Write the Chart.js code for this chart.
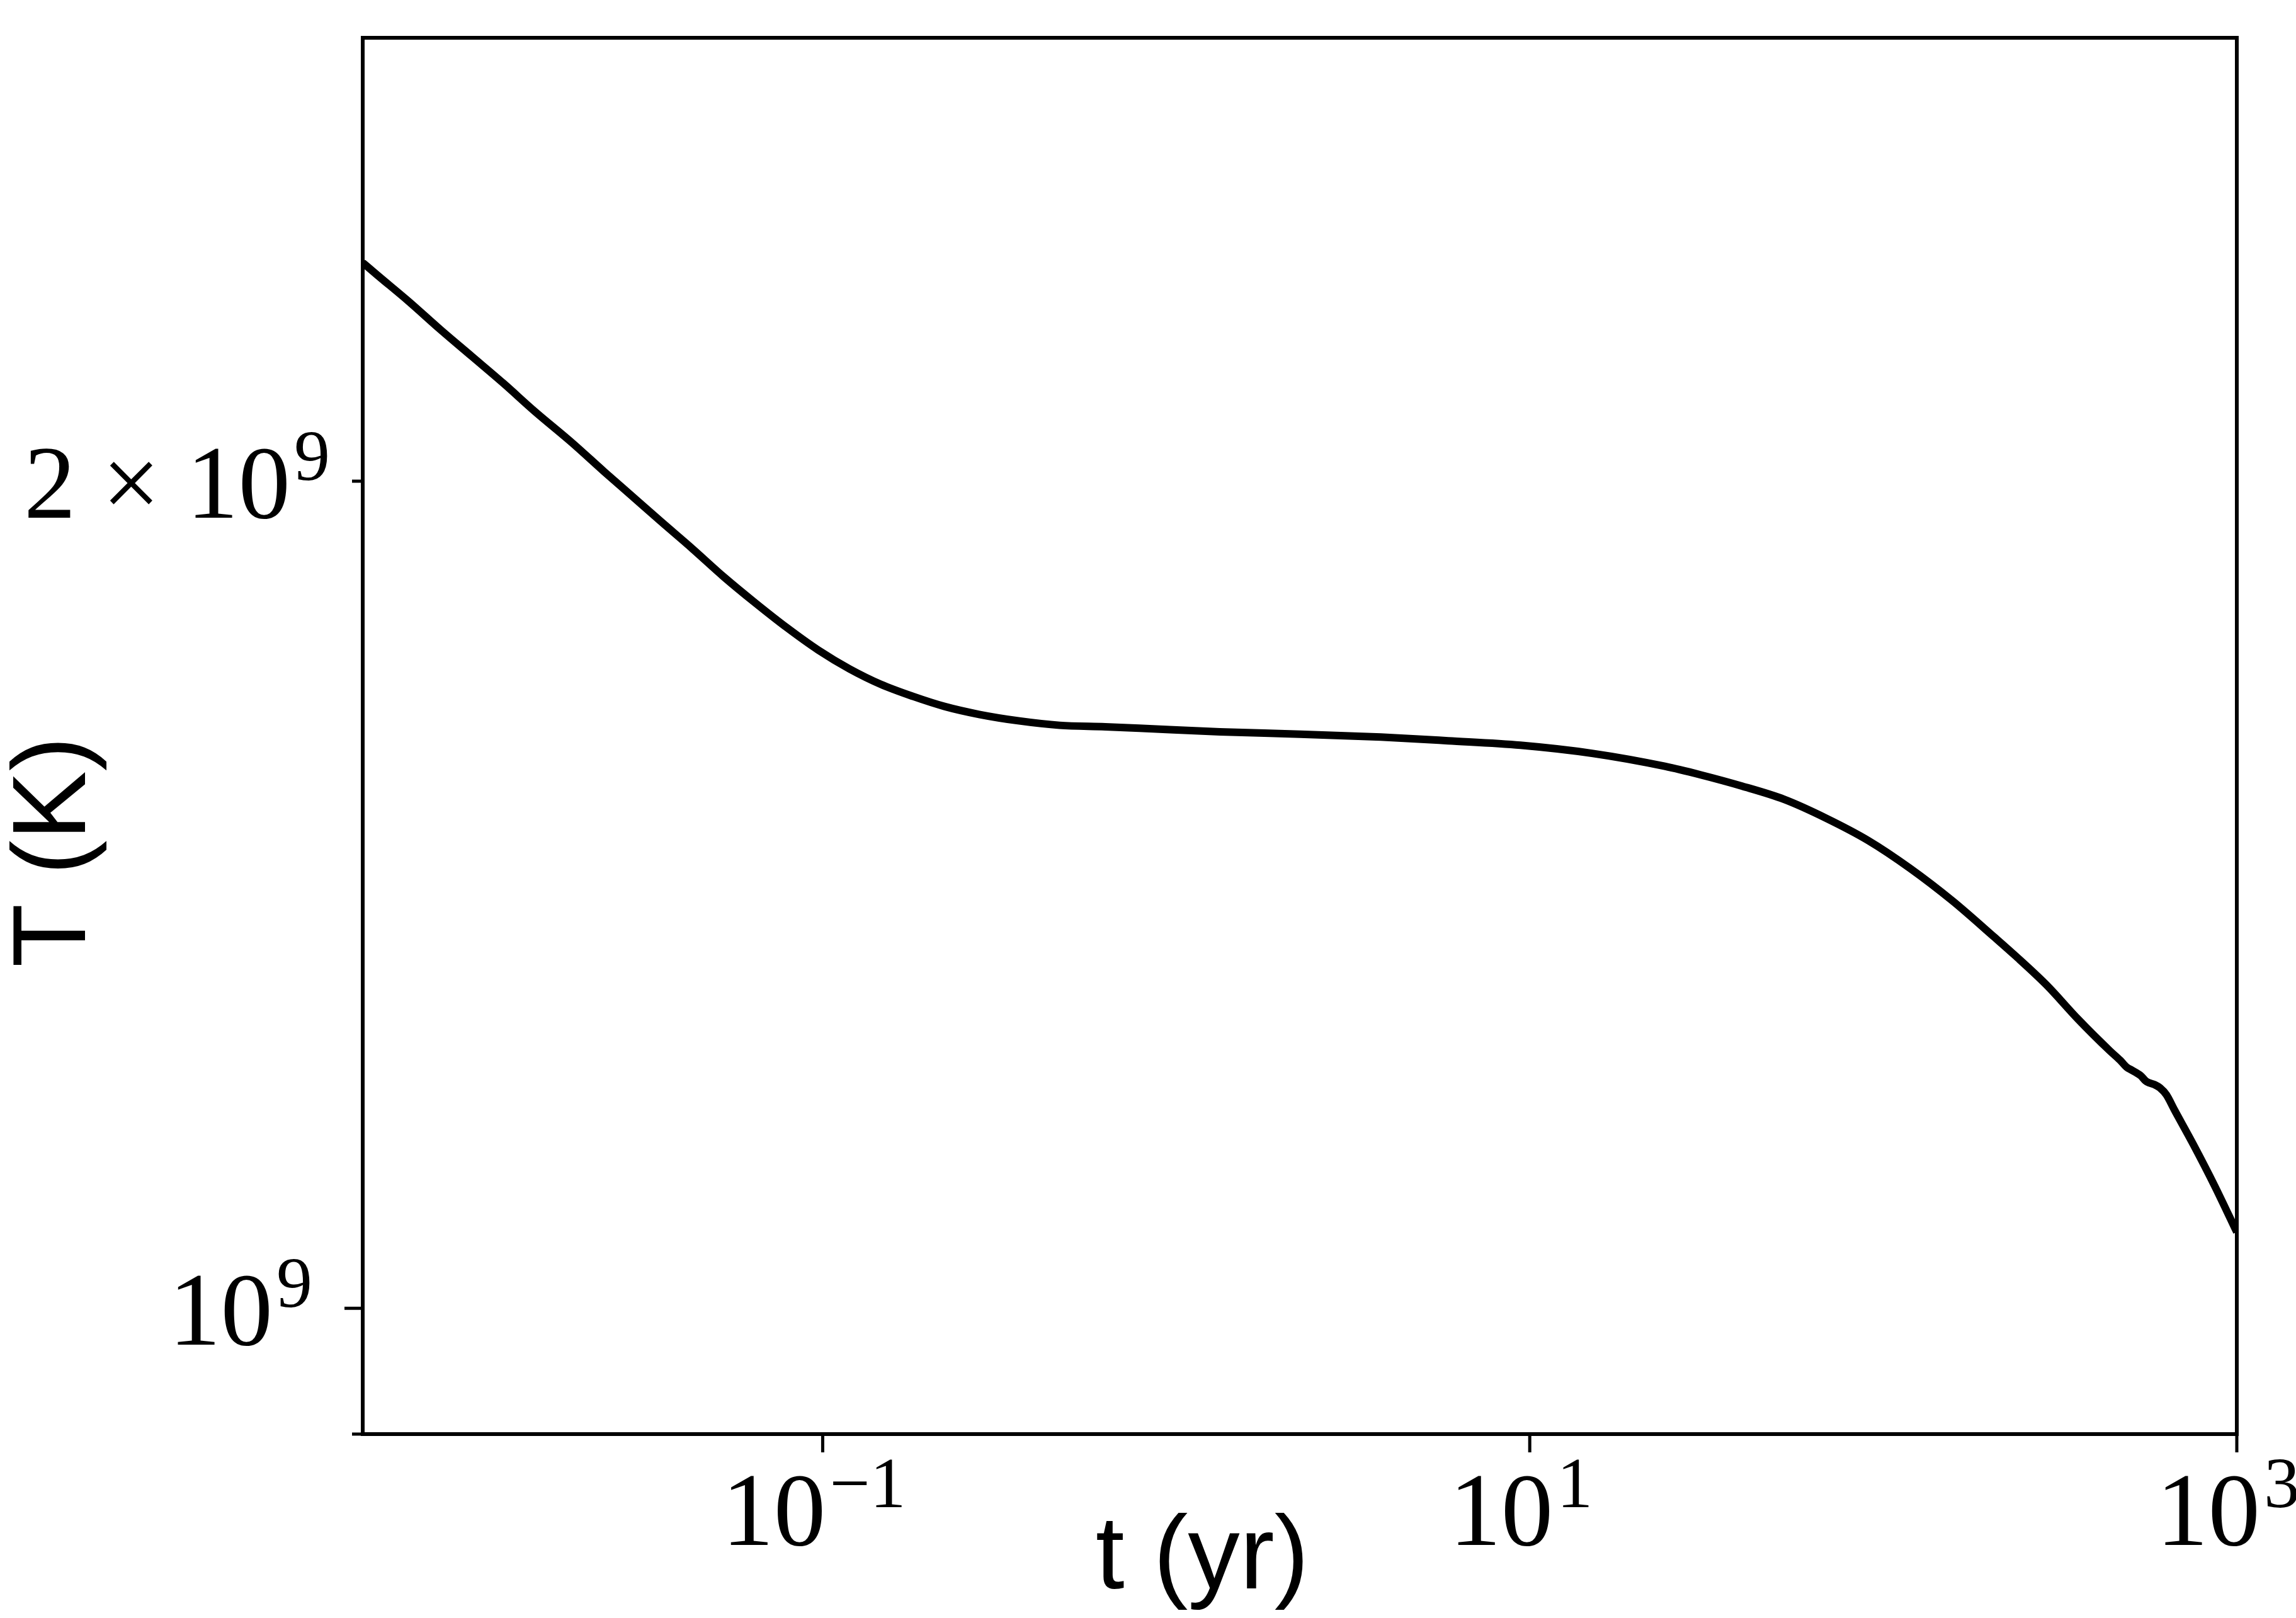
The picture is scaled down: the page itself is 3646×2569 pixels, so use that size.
<!DOCTYPE html>
<html>
<head>
<meta charset="utf-8">
<title>T vs t</title>
<script src="https://cdn.jsdelivr.net/npm/chart.js@4.4.1/dist/chart.umd.min.js"></script>
<style>
  html, body { margin: 0; padding: 0; background: #fff; }
  #wrap { width: 3646px; height: 2569px; position: relative; }
</style>
</head>
<body>
<div id="wrap"><canvas id="tchart"></canvas></div>
<script>
// time (yr) and temperature (K)
var tYears = [0.005, 0.0055, 0.00675, 0.00829, 0.0102, 0.0125, 0.0153, 0.0195, 0.0241, 0.0284,
              0.0348, 0.0428, 0.0525, 0.0645, 0.0792, 0.0972, 0.119, 0.146, 0.18, 0.221,
              0.277, 0.36, 0.468, 0.63, 0.787, 1.33, 2.24, 3.79, 5.88, 9.42, 15.1,
              24.1, 30.3, 39.9, 52.4, 68.9, 90.7, 119, 157, 206, 236,
              290, 356, 437, 468, 488, 504, 521, 536, 552, 565,
              587, 606, 632, 666, 754, 866, 1000];
var tempK = [2.402e9, 2.377e9, 2.325e9, 2.271e9, 2.220e9, 2.171e9, 2.121e9, 2.066e9, 2.016e9, 1.979e9,
             1.934e9, 1.890e9, 1.846e9, 1.806e9, 1.769e9, 1.736e9, 1.709e9, 1.687e9, 1.670e9, 1.656e9,
             1.645e9, 1.636e9, 1.630e9, 1.628e9, 1.626e9, 1.621e9, 1.618e9, 1.614e9, 1.609e9, 1.603e9, 1.592e9,
             1.575e9, 1.564e9, 1.549e9, 1.532e9, 1.508e9, 1.480e9, 1.446e9, 1.407e9, 1.365e9, 1.344e9,
             1.311e9, 1.274e9, 1.241e9, 1.231e9, 1.224e9, 1.221e9, 1.218e9, 1.215e9, 1.210e9, 1.208e9,
             1.206e9, 1.203e9, 1.196e9, 1.181e9, 1.147e9, 1.108e9, 1.066e9];

// ticks: [mantissa text, exponent text]
var xTicks = [0.1, 10, 1000];
var xTickLabels = [['10', '\u22121'], ['10', '1'], ['10', '3']];
var yTicks = [9e8, 1e9, 2e9];
var yTickLabels = [['', ''], ['10', '9'], ['2 \u00d7 10', '9']];
var yTickMajor = [false, true, false];

var points = [];
for (var i = 0; i < tYears.length; i++) {
    points.push({x: tYears[i], y: tempK[i]});
}

var serif = '"Liberation Serif", "DejaVu Serif", serif';
var sans = '"Liberation Sans", Arial, sans-serif';

function drawPow(ctx, base, exp, x, y, align) {
    ctx.font = '165px ' + serif;
    var wb = ctx.measureText(base).width;
    ctx.font = '114px ' + serif;
    var we = ctx.measureText(exp).width;
    var total = wb + 6 + we;
    var left = align == 'center' ? x - total / 2 : x - total;
    ctx.textAlign = 'left';
    ctx.textBaseline = 'alphabetic';
    ctx.font = '165px ' + serif;
    ctx.fillText(base, left, y);
    ctx.font = '114px ' + serif;
    ctx.fillText(exp, left + wb + 6, y - 60);
}

var frame = {
    id: 'frame',
    afterDraw: function(chart) {
        var ctx = chart.ctx;
        var a = chart.chartArea;
        var xs = chart.scales.x, ys = chart.scales.y;
        ctx.save();
        ctx.strokeStyle = '#000';
        ctx.fillStyle = '#000';
        ctx.lineWidth = 6;
        ctx.strokeRect(a.left, a.top, a.right - a.left, a.bottom - a.top);

        ctx.lineWidth = 5;
        ctx.beginPath();
        xTicks.forEach(function(v) {
            var px = xs.getPixelForValue(v);
            ctx.moveTo(px, a.bottom);
            ctx.lineTo(px, a.bottom + 29);
        });
        yTicks.forEach(function(v, i) {
            var py = ys.getPixelForValue(v);
            var len = yTickMajor[i] ? 29 : 17;
            ctx.moveTo(a.left, py);
            ctx.lineTo(a.left - len, py);
        });
        ctx.stroke();

        xTicks.forEach(function(v, i) {
            var px = xs.getPixelForValue(v);
            drawPow(ctx, xTickLabels[i][0], xTickLabels[i][1], px - 14, a.bottom + 176, 'center');
        });
        yTicks.forEach(function(v, i) {
            if (!yTickLabels[i][0]) return;
            var py = ys.getPixelForValue(v);
            var edge = yTickMajor[i] ? 29 + 51 : 17 + 35;
            drawPow(ctx, yTickLabels[i][0], yTickLabels[i][1], a.left - edge, py + 58, 'right');
        });

        // axis titles
        var w = a.right - a.left, h = a.bottom - a.top;
        ctx.font = '165px ' + sans;
        ctx.textAlign = 'center';
        ctx.textBaseline = 'alphabetic';
        ctx.fillText('t (yr)', a.left + 0.448 * w, a.bottom + 245);
        ctx.translate(a.left - 441, a.top + 0.583 * h);
        ctx.rotate(-Math.PI / 2);
        ctx.fillText('T (K)', 0, 0);
        ctx.restore();
    }
};

var ctx = document.getElementById('tchart');
var tChart = new Chart(ctx, {
    type: 'line',
    data: {
        datasets: [
            {
                data: points,
                borderColor: '#000',
                borderWidth: 12,
                pointRadius: 0,
                fill: false,
                cubicInterpolationMode: 'monotone'
            }
        ]
    },
    options: {
        responsive: true,
        maintainAspectRatio: false,
        animation: false,
        layout: {
            padding: {left: 576, top: 60, right: 94, bottom: 292}
        },
        plugins: {
            legend: { display: false },
            tooltip: { enabled: false }
        },
        scales: {
            x: {
                type: 'logarithmic',
                min: 0.005,
                max: 1000,
                grid: { display: false },
                border: { display: false },
                ticks: { display: false },
                afterFit: function(s) { s.height = 0; }
            },
            y: {
                type: 'logarithmic',
                min: 9e8,
                max: 2.9e9,
                grid: { display: false },
                border: { display: false },
                ticks: { display: false },
                afterFit: function(s) { s.width = 0; }
            }
        }
    },
    plugins: [frame]
});
</script>
</body>
</html>
